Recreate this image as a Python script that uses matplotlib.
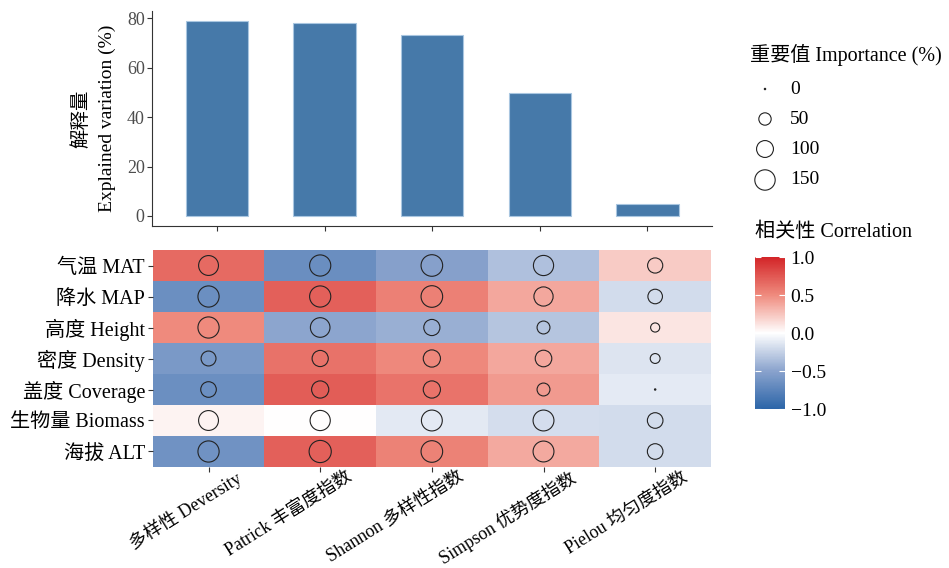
import numpy as np
import matplotlib.pyplot as plt
from matplotlib.colors import LinearSegmentedColormap, Normalize
from matplotlib.transforms import blended_transform_factory, ScaledTranslation

plt.rcParams['font.family'] = ['Liberation Serif', 'Noto Sans CJK SC']
plt.rcParams['font.size'] = 14

W, H, DPI = 949, 568, 100

# response indices (columns) and drivers (rows)
indices = ['多样性 Deversity', 'Patrick 丰富度指数', 'Shannon 多样性指数',
           'Simpson 优势度指数', 'Pielou 均匀度指数']
drivers = ['气温 MAT', '降水 MAP', '高度 Height', '密度 Density',
           '盖度 Coverage', '生物量 Biomass', '海拔 ALT']

# explained variation of each index (%)
explained = [79.0, 78.2, 73.1, 49.8, 4.8]

# correlation, rows = drivers, cols = indices
corr = np.array([
    [0.66, -0.67, -0.52, -0.34, 0.22],
    [-0.66, 0.71, 0.55, 0.375, -0.19],
    [0.50, -0.49, -0.43, -0.32, 0.11],
    [-0.58, 0.62, 0.51, 0.375, -0.145],
    [-0.66, 0.72, 0.61, 0.43, -0.11],
    [0.05, 0.0, -0.12, -0.18, -0.19],
    [-0.64, 0.71, 0.54, 0.37, -0.19],
])

# importance (%)
importance = np.array([
    [142, 163, 170, 147, 79],
    [163, 163, 170, 132, 72],
    [163, 138, 91, 55, 25],
    [76, 91, 104, 96, 30],
    [84, 104, 104, 55, 0],
    [142, 147, 158, 158, 84],
    [163, 180, 170, 158, 84],
])
size_breaks = [0, 50, 100, 150]


def circle_size(v, lw=0.8):
    # diameter in px grows with sqrt of importance, returned as scatter area (pt^2)
    d_px = 2.5 + 1.55 * np.sqrt(np.asarray(v, dtype=float))
    d_pt = d_px * 72.0 / DPI - lw
    return np.clip(d_pt, 0.6, None) ** 2


def px_axes(x0, y0, x1, y1):
    return [x0 / W, 1 - y1 / H, (x1 - x0) / W, (y1 - y0) / H]


cmap = LinearSegmentedColormap.from_list(
    'corr', [(0.0, '#2C65A8'), (0.25, '#8AA3CD'), (0.5, '#FFFFFF'),
             (0.75, '#EF8B7E'), (1.0, '#D32528')])
norm = Normalize(-1, 1)

fig = plt.figure(figsize=(W / DPI, H / DPI), dpi=DPI)

# ---- bar chart of explained variation
ax_bar = fig.add_axes(px_axes(152.3, 11, 712, 225.7))
xb = np.arange(1, len(explained) + 1)
ax_bar.bar(xb, explained, width=0.58, color='#4679A9', edgecolor='#A9C6E0',
           linewidth=0.8)
ax_bar.set_xlim(0.4, 5.6)
ax_bar.set_ylim(-3.95, 82.95)
ax_bar.set_yticks([0, 20, 40, 60, 80])
ax_bar.set_xticks(xb)
ax_bar.set_xticklabels([])
for s in ['top', 'right']:
    ax_bar.spines[s].set_visible(False)
for s in ['left', 'bottom']:
    ax_bar.spines[s].set_color('#333333')
    ax_bar.spines[s].set_linewidth(0.8)
ax_bar.tick_params(axis='both', length=3.5, width=0.8, color='#333333',
                   labelsize=13, labelcolor='#4D4D4D', pad=2)
ax_bar.set_ylabel('解释量\nExplained variation (%)', fontsize=14, labelpad=8,
                  linespacing=1.6)

# ---- heatmap with importance circles
ax_hm = fig.add_axes(px_axes(152.7, 250, 711, 467))
nr, nc = corr.shape
ax_hm.pcolormesh(np.arange(nc + 1) + 0.5, np.arange(nr + 1) + 0.5, corr,
                 cmap=cmap, norm=norm)
cx, cy = np.meshgrid(np.arange(1, nc + 1), np.arange(1, nr + 1))
ax_hm.scatter(cx.ravel(), cy.ravel(), s=circle_size(importance.ravel()),
              facecolors='none', edgecolors='#222222', linewidths=0.8)
ax_hm.set_xlim(0.5, nc + 0.5)
ax_hm.set_ylim(nr + 0.5, 0.5)
ax_hm.set_xticks(np.arange(1, nc + 1))
ax_hm.set_yticks(np.arange(1, nr + 1))
ax_hm.set_yticklabels(drivers, fontsize=14.5)
ax_hm.set_xticklabels([])
for s in ax_hm.spines.values():
    s.set_visible(False)
ax_hm.tick_params(axis='both', length=3.5, width=0.8, color='#333333', pad=2)

# slanted index labels, ending a little to the right of each tick
lab_tr = blended_transform_factory(ax_hm.transData, ax_hm.transAxes) + \
    ScaledTranslation(26 / DPI, -1 / DPI, fig.dpi_scale_trans)
for i, name in enumerate(indices):
    ax_hm.text(i + 1, 0, name, transform=lab_tr, fontsize=13, rotation=32,
               ha='right', va='top', rotation_mode='anchor')

# ---- colour bar
cax = fig.add_axes(px_axes(755, 257, 785, 409))
sm = plt.cm.ScalarMappable(norm=norm, cmap=cmap)
cb = fig.colorbar(sm, cax=cax, ticks=[-1, -0.5, 0, 0.5, 1])
cb.outline.set_visible(False)
cb.ax.yaxis.set_ticks_position('both')
cb.ax.tick_params(direction='in', length=4.5, width=0.8, color='white',
                  labelsize=14, labelright=True, labelleft=False, pad=4)
cb.ax.set_yticklabels(['\u22121.0', '\u22120.5', '0.0', '0.5', '1.0'])

# ---- size legend and colour bar title
lax = fig.add_axes([0, 0, 1, 1], zorder=-1)
lax.set_xlim(0, W)
lax.set_ylim(H, 0)
lax.axis('off')
lax.text(750, 55, '重要值 Importance (%)', fontsize=14.5, va='center', ha='left')
ly = [89, 119, 149, 180]
lax.scatter([765] * len(size_breaks), ly, s=circle_size(size_breaks),
            facecolors='none', edgecolors='#222222', linewidths=0.8)
for v, y in zip(size_breaks, ly):
    lax.text(790, y, str(v), fontsize=14, va='center', ha='left')
lax.text(755, 232, '相关性 Correlation', fontsize=14.5, va='center', ha='left')

fig.savefig('out.png', dpi=DPI)
